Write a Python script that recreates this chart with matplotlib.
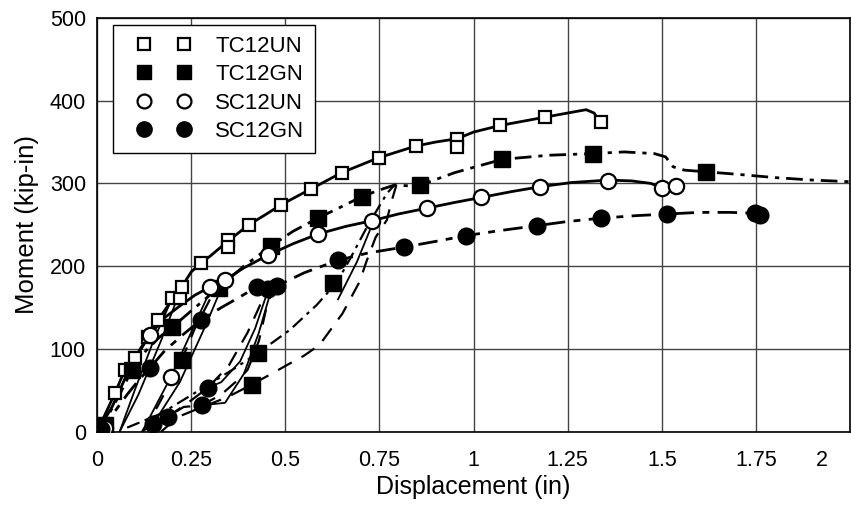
import matplotlib
matplotlib.use("Agg")
import matplotlib.pyplot as plt
from matplotlib.transforms import ScaledTranslation
from matplotlib.legend_handler import HandlerLine2D

plt.rcParams['font.family'] = ['Liberation Sans', 'DejaVu Sans']

# ---- envelope curves (displacement in, moment kip-in) ----
tc12un_x = [0, 0.048, 0.074, 0.10, 0.135, 0.162, 0.20, 0.225, 0.25, 0.276, 0.30, 0.347, 0.403, 0.45,
            0.488, 0.567, 0.65, 0.748, 0.846, 0.90, 0.957, 1.0, 1.071, 1.19, 1.25, 1.299, 1.32, 1.33, 1.339]
tc12un_y = [0, 47, 75, 89, 115, 135, 160, 175, 193, 204, 212, 230, 250, 263,
            274, 293, 313, 331, 345, 350, 354, 362, 370, 380, 385, 389, 385, 378, 374]

tc12gn_x = [0, 0.03, 0.06, 0.093, 0.13, 0.165, 0.199, 0.25, 0.323, 0.39, 0.461, 0.52, 0.586, 0.65,
            0.703, 0.75, 0.79, 0.83, 0.859, 0.95, 1.076, 1.2, 1.318, 1.4, 1.48, 1.51, 1.53, 1.56,
            1.617, 1.7, 1.8, 1.9, 2.0, 2.05]
tc12gn_y = [0, 20, 45, 75, 98, 114, 126, 146, 174, 200, 224, 242, 258, 272,
            284, 292, 298, 297, 298, 313, 329, 334, 336, 338, 336, 332, 320, 316,
            314, 311, 307, 304, 302, 300]

sc12un_x = [0, 0.04, 0.08, 0.11, 0.14, 0.18, 0.22, 0.26, 0.30, 0.339, 0.39, 0.453, 0.52, 0.588,
            0.66, 0.731, 0.80, 0.875, 0.95, 1.02, 1.10, 1.177, 1.26, 1.357, 1.42, 1.47, 1.50, 1.537]
sc12un_y = [0, 30, 70, 95, 117, 138, 152, 165, 175, 183, 198, 213, 227, 239,
            248, 255, 263, 270, 277, 283, 290, 296, 301, 304, 303, 300, 295, 297]

sc12gn_x = [0, 0.04, 0.08, 0.11, 0.14, 0.18, 0.23, 0.276, 0.33, 0.38, 0.424, 0.453, 0.477, 0.55,
            0.639, 0.72, 0.814, 0.90, 0.981, 1.07, 1.169, 1.25, 1.339, 1.43, 1.514, 1.60, 1.68,
            1.747, 1.76]
sc12gn_y = [0, 20, 45, 62, 77, 98, 118, 135, 150, 163, 175, 172, 176, 192,
            207, 216, 223, 230, 237, 243, 249, 254, 258, 261, 263, 265, 265,
            264, 262]

# ---- unload / reload branches ----
tc12un_unload_x = [0.225, 0.17, 0.11, 0.06]
tc12un_unload_y = [175, 110, 45, 0]
tc12un_reload_x = [0.06, 0.10, 0.15, 0.20]
tc12un_reload_y = [0, 50, 110, 162]

tc12gn_re1_x = [0.12, 0.16, 0.195, 0.225, 0.26, 0.30, 0.323]
tc12gn_re1_y = [0, 30, 60, 87, 125, 160, 174]
tc12gn_re2_x = [0.08, 0.17, 0.26, 0.36, 0.427, 0.512, 0.583, 0.636, 0.671, 0.72, 0.77, 0.79]
tc12gn_re2_y = [5, 22, 47, 75, 95, 123, 153, 180, 208, 250, 288, 298]
tc12gn_re3_x = [0.17, 0.215, 0.28, 0.347, 0.411, 0.467, 0.506, 0.55, 0.591, 0.652, 0.697,
                0.715, 0.74, 0.77, 0.78, 0.795]
tc12gn_re3_y = [0, 18, 30, 42, 57, 71, 81, 92, 105, 143, 181, 205, 235, 256, 275, 298]

sc12un_unload1_x = [0.339, 0.29, 0.22, 0.15, 0.12]
sc12un_unload1_y = [183, 130, 60, 10, 0]
sc12un_reload1_x = [0.12, 0.16, 0.196, 0.24, 0.28, 0.30, 0.339]
sc12un_reload1_y = [0, 35, 66, 110, 150, 170, 183]
sc12un_unload2_x = [0.735, 0.69, 0.64]
sc12un_unload2_y = [255, 205, 160]

sc12gn_unload1_x = [0.455, 0.42, 0.38, 0.33, 0.294]
sc12gn_unload1_y = [172, 125, 85, 60, 53]
sc12gn_unload2_x = [0.465, 0.43, 0.39, 0.34, 0.278]
sc12gn_unload2_y = [175, 120, 70, 35, 32]
sc12gn_re1_x = [0.148, 0.188, 0.23, 0.278, 0.33, 0.38, 0.40, 0.43, 0.45, 0.47]
sc12gn_re1_y = [9, 18, 30, 32, 45, 65, 75, 110, 150, 176]
sc12gn_re2_x = [0.188, 0.25, 0.294, 0.35, 0.40, 0.44, 0.46]
sc12gn_re2_y = [18, 38, 53, 80, 120, 160, 175]

# ---- marker points ----
tc12un_mx = [0.008, 0.048, 0.074, 0.10, 0.135, 0.162, 0.20, 0.22, 0.225, 0.276, 0.347, 0.347,
             0.403, 0.488, 0.567, 0.65, 0.748, 0.846, 0.957, 0.957, 1.071, 1.19, 1.339]
tc12un_my = [5, 47, 75, 89, 115, 135, 162, 162, 175, 204, 232, 223,
             250, 274, 293, 313, 331, 345, 354, 344, 370, 380, 374]
tc12gn_mx = [0.02, 0.093, 0.199, 0.225, 0.323, 0.411, 0.427, 0.461, 0.586, 0.628, 0.703,
             0.859, 1.076, 1.318, 1.617]
tc12gn_my = [8, 75, 126, 87, 174, 57, 95, 224, 258, 180, 284, 298, 329, 336, 314]
sc12un_mx = [0.02, 0.14, 0.196, 0.30, 0.339, 0.453, 0.588, 0.731, 0.875, 1.02, 1.177,
             1.357, 1.50, 1.537]
sc12un_my = [5, 117, 66, 175, 183, 213, 239, 255, 270, 283, 296, 303, 295, 297]
sc12gn_mx = [0.01, 0.14, 0.148, 0.188, 0.276, 0.278, 0.294, 0.424, 0.453, 0.477, 0.639,
             0.814, 0.981, 1.169, 1.339, 1.514, 1.747, 1.76]
sc12gn_my = [3, 77, 9, 18, 135, 32, 53, 175, 172, 176, 207, 223, 237, 249, 258, 263, 264, 262]

x_ticks = [0, 0.25, 0.5, 0.75, 1, 1.25, 1.5, 1.75, 2]
x_labels = ['0', '0.25', '0.5', '0.75', '1', '1.25', '1.5', '1.75', '2']
y_ticks = [0, 100, 200, 300, 400, 500]

fig = plt.figure(figsize=(8.51, 5.08), dpi=100)
ax = fig.add_axes([0.114, 0.150, 0.885, 0.815])

dd_tc = (6, 2.5, 1.5, 2.5)   # dash-dot
dd_sc = (7, 3, 2.5, 3)       # long/short dash
loop_d = (7, 5)

# envelopes
ax.plot(tc12un_x, tc12un_y, color='black', lw=2.0)
ax.plot(tc12gn_x, tc12gn_y, color='black', lw=2.0, dashes=dd_tc)
ax.plot(sc12un_x, sc12un_y, color='black', lw=2.0)
ax.plot(sc12gn_x, sc12gn_y, color='black', lw=2.0, dashes=dd_sc)

# loops
ax.plot(tc12un_unload_x, tc12un_unload_y, color='black', lw=1.3)
ax.plot(tc12un_reload_x, tc12un_reload_y, color='black', lw=1.3)
ax.plot(tc12gn_re1_x, tc12gn_re1_y, color='black', lw=1.6, dashes=loop_d)
ax.plot(tc12gn_re2_x, tc12gn_re2_y, color='black', lw=1.6, dashes=dd_tc)
ax.plot(tc12gn_re3_x, tc12gn_re3_y, color='black', lw=1.6, dashes=loop_d)
ax.plot(sc12un_unload1_x, sc12un_unload1_y, color='black', lw=1.3)
ax.plot(sc12un_reload1_x, sc12un_reload1_y, color='black', lw=1.3)
ax.plot(sc12un_unload2_x, sc12un_unload2_y, color='black', lw=1.3)
ax.plot(sc12gn_unload1_x, sc12gn_unload1_y, color='black', lw=1.3)
ax.plot(sc12gn_unload2_x, sc12gn_unload2_y, color='black', lw=1.3)
ax.plot(sc12gn_re1_x, sc12gn_re1_y, color='black', lw=1.6, dashes=loop_d)
ax.plot(sc12gn_re2_x, sc12gn_re2_y, color='black', lw=1.6, dashes=loop_d)

# markers
ax.plot(tc12un_mx, tc12un_my, ls='none', marker='s', ms=9, mfc='white', mec='black', mew=1.6, zorder=4)
ax.plot(tc12gn_mx, tc12gn_my, ls='none', marker='s', ms=11, mfc='black', mec='black', zorder=4)
ax.plot(sc12un_mx, sc12un_my, ls='none', marker='o', ms=11, mfc='white', mec='black', mew=1.6, zorder=4)
ax.plot(sc12gn_mx, sc12gn_my, ls='none', marker='o', ms=12, mfc='black', mec='black', zorder=4)

# legend proxies: markers only
h1, = ax.plot([], [], ls='none', marker='s', ms=9, mfc='white', mec='black', mew=1.6)
h2, = ax.plot([], [], ls='none', marker='s', ms=10, mfc='black', mec='black')
h3, = ax.plot([], [], ls='none', marker='o', ms=10, mfc='white', mec='black', mew=1.6)
h4, = ax.plot([], [], ls='none', marker='o', ms=11, mfc='black', mec='black')
hmap = {h: HandlerLine2D(marker_pad=0.9, numpoints=2) for h in (h1, h2, h3, h4)}
leg = ax.legend([h1, h2, h3, h4], ['TC12UN', 'TC12GN', 'SC12UN', 'SC12GN'],
                loc='upper left', bbox_to_anchor=(0.021, 0.983), borderaxespad=0,
                handler_map=hmap, handlelength=3.6, handletextpad=0.5, borderpad=0.5,
                labelspacing=0.33, fontsize=16, fancybox=False, framealpha=1)
leg.get_frame().set_edgecolor('black')
leg.get_frame().set_linewidth(1.0)

ax.set_xlim(0, 2)
ax.set_ylim(0, 500)
ax.set_xticks(x_ticks)
ax.set_xticklabels(x_labels)
ax.set_yticks(y_ticks)
ax.tick_params(labelsize=15.5, length=0)
ax.tick_params(axis='x', pad=13)
ax.tick_params(axis='y', pad=8)
ax.grid(True, color='#444444', lw=1.0)
ax.set_axisbelow(True)
for sp in ax.spines.values():
    sp.set_color('black')
    sp.set_linewidth(1.2)

# last x label sits inside the figure
last = ax.get_xticklabels()[-1]
last.set_transform(last.get_transform() + ScaledTranslation(-20 / 72, 0, fig.dpi_scale_trans))

ax.set_xlabel('Displacement (in)', fontsize=18, labelpad=3)
ax.set_ylabel('Moment (kip-in)', fontsize=18.5, labelpad=8)

fig.savefig('out.png', dpi=100)
